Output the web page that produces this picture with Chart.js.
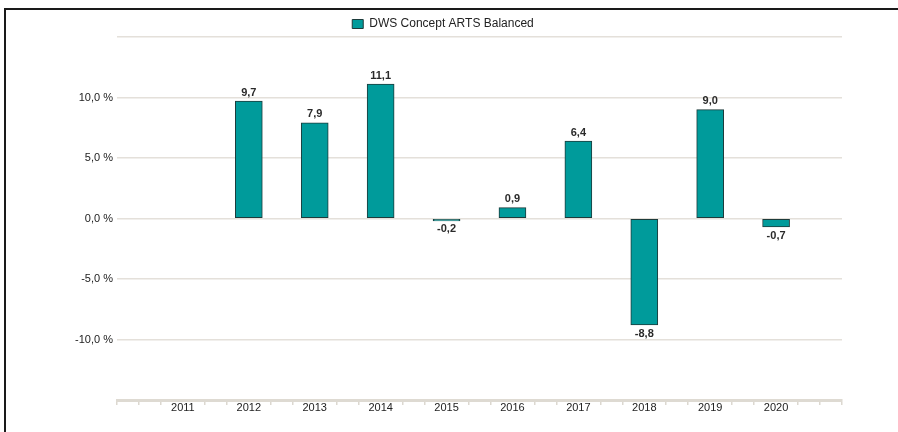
<!DOCTYPE html>
<html>
<head>
<meta charset="utf-8">
<script src="https://cdn.jsdelivr.net/npm/chart.js@4"></script>
<style>
  html, body { margin:0; padding:0; background:#fff; }
  #wrap { position:relative; width:898px; height:432px; overflow:hidden; }
  #frame { position:absolute; left:4px; top:8px; right:-10px; bottom:-10px; border-top:2px solid #1a1a1a; border-left:2px solid #1a1a1a; pointer-events:none; }
  canvas { position:absolute; left:0; top:0; }
</style>
</head>
<body>
<div id="wrap">
  <canvas id="c" width="898" height="432"></canvas>
  <div id="frame"></div>
</div>
<script>
const years = ['2011','2012','2013','2014','2015','2016','2017','2018','2019','2020'];
const values = [null, 9.7, 7.9, 11.1, -0.2, 0.9, 6.4, -8.8, 9.0, -0.7];
const seriesName = 'DWS Concept ARTS Balanced';
const yTicks = [-15, -10, -5, 0, 5, 10, 15];

const fmt = v => v.toFixed(1).replace('.', ',');
const points = years.map((y, i) => ({ x: i + 1, y: values[i] }));

const labelPlugin = {
  id: 'barLabels',
  afterLayout(chart) {
    const lg = chart.legend;
    if (lg) { lg.left += 22; lg.right += 22; lg.top += 3; lg.bottom += 3; }
  },
  afterDatasetsDraw(chart) {
    const ctx = chart.ctx;
    const meta = chart.getDatasetMeta(0);
    ctx.save();
    ctx.font = 'bold 11px "Liberation Sans", Arial, sans-serif';
    ctx.fillStyle = '#2a2a2a';
    ctx.textAlign = 'center';
    meta.data.forEach((bar, i) => {
      const v = values[i];
      if (v === null) return;
      if (v >= 0) {
        ctx.textBaseline = 'bottom';
        ctx.fillText(fmt(v), bar.x, bar.y - 3);
      } else {
        ctx.textBaseline = 'top';
        ctx.fillText(fmt(v), bar.x, bar.y + 3);
      }
    });
    ctx.restore();
  }
};

new Chart(document.getElementById('c'), {
  type: 'bar',
  data: {
    datasets: [{
      label: seriesName,
      data: points,
      backgroundColor: '#009b9b',
      borderColor: '#1d3b3b',
      borderWidth: 1,
      borderSkipped: false,
      barThickness: 27
    }]
  },
  options: {
    responsive: false,
    animation: false,
    devicePixelRatio: 1,
    layout: { padding: { left: 0, right: 56, top: 12, bottom: 0 } },
    plugins: {
      legend: {
        display: true,
        position: 'top',
        labels: {
          boxWidth: 11,
          boxHeight: 9,
          color: '#222',
          font: { family: '"Liberation Sans", Arial, sans-serif', size: 12 },
          padding: 3
        }
      },
      tooltip: { enabled: false }
    },
    scales: {
      x: {
        type: 'linear',
        min: 0,
        max: 11,
        offset: false,
        afterBuildTicks(scale) {
          const t = [];
          for (let i = 0; i <= 33; i++) t.push({ value: i / 3 });
          scale.ticks = t;
        },
        afterFit(scale) { scale.height = 32; },
        ticks: {
          autoSkip: false,
          maxRotation: 0,
          padding: -4,
          color: '#222',
          font: { family: '"Liberation Sans", Arial, sans-serif', size: 11 },
          callback(v) {
            const r = Math.round(v);
            if (Math.abs(v - r) < 1e-6 && r >= 1 && r <= years.length) return years[r - 1];
            return '';
          }
        },
        grid: {
          offset: false,
          drawOnChartArea: false,
          drawTicks: true,
          tickLength: 5,
          color(ctx) {
            const v = ctx.tick ? ctx.tick.value : 0;
            const r = Math.round(v);
            if (Math.abs(v - r) < 1e-6 && r >= 1 && r <= years.length) return 'rgba(0,0,0,0)';
            return '#dcd8d0';
          },
          lineWidth: 1.5
        },
        border: { display: true, color: '#dedad2', width: 3 }
      },
      y: {
        min: -15,
        max: 15,
        afterBuildTicks(scale) { scale.ticks = yTicks.map(v => ({ value: v })); },
        afterFit(scale) { scale.width = 117; },
        ticks: {
          padding: 4,
          color: '#222',
          font: { family: '"Liberation Sans", Arial, sans-serif', size: 11 },
          callback(v) { return Math.abs(v) > 10 ? '' : fmt(v) + ' %'; }
        },
        grid: { drawTicks: false, color: '#e4e0da', lineWidth: 1.5 },
        border: { display: false }
      }
    }
  },
  plugins: [labelPlugin]
});
</script>
</body>
</html>
